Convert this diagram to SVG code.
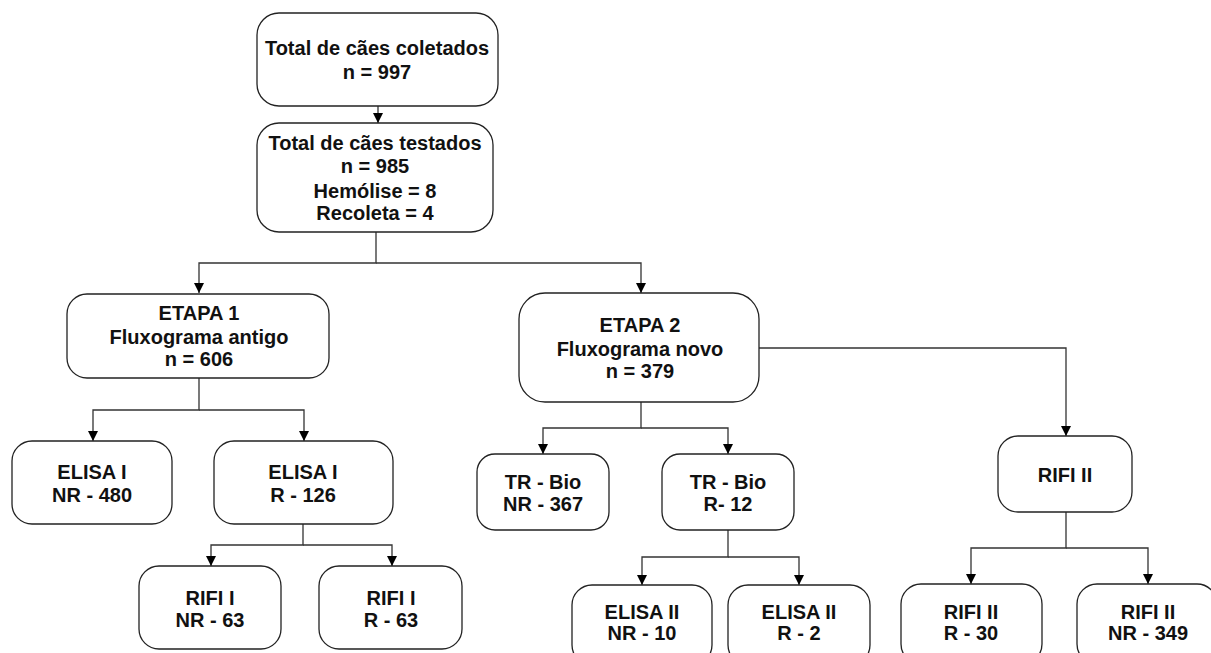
<svg xmlns="http://www.w3.org/2000/svg" width="1211" height="653" viewBox="0 0 1211 653">
<style>
.box{fill:#fff;stroke:#222;stroke-width:1.3}
.t{font-family:"Liberation Sans",Arial,sans-serif;font-weight:bold;font-size:20px;fill:#111;text-anchor:middle}
.c{fill:none;stroke:#333;stroke-width:1.3}
</style>
<defs>
<marker id="ah" markerUnits="userSpaceOnUse" markerWidth="10" markerHeight="10" refX="10" refY="5" orient="auto" viewBox="0 0 10 10">
<path d="M0,0 L10,5 L0,10 z" fill="#000"/>
</marker>
</defs>
<rect width="1211" height="653" fill="#fff"/>
<g id="connectors">
<path class="c" d="M378,106 V123" marker-end="url(#ah)"/>
<path class="c" d="M376,232 V263 H199 V293" marker-end="url(#ah)"/>
<path class="c" d="M376,263 H641 V293" marker-end="url(#ah)"/>
<path class="c" d="M199,378 V410 H93 V441" marker-end="url(#ah)"/>
<path class="c" d="M199,410 H304 V441" marker-end="url(#ah)"/>
<path class="c" d="M303,524 V545 H211 V566" marker-end="url(#ah)"/>
<path class="c" d="M303,545 H392 V566" marker-end="url(#ah)"/>
<path class="c" d="M759,348 H1066 V436" marker-end="url(#ah)"/>
<path class="c" d="M641,402 V428 H543 V454" marker-end="url(#ah)"/>
<path class="c" d="M641,428 H728 V454" marker-end="url(#ah)"/>
<path class="c" d="M728,530 V557 H642 V585" marker-end="url(#ah)"/>
<path class="c" d="M728,557 H799 V585" marker-end="url(#ah)"/>
<path class="c" d="M1066,512 V548 H971 V584" marker-end="url(#ah)"/>
<path class="c" d="M1066,548 H1148 V584" marker-end="url(#ah)"/>
</g>
<g id="n1"><rect class="box" x="257" y="13" width="241" height="93" rx="22"/>
<text class="t" x="377" y="55">Total de cães coletados</text><text class="t" x="377" y="79">n = 997</text></g>
<g id="n2"><rect class="box" x="257" y="123" width="236" height="109" rx="22"/>
<text class="t" x="375" y="150">Total de cães testados</text><text class="t" x="375" y="173">n = 985</text><text class="t" x="375" y="198">Hemólise = 8</text><text class="t" x="375" y="220">Recoleta = 4</text></g>
<g id="n3"><rect class="box" x="67" y="294" width="262" height="84" rx="20"/>
<text class="t" x="199" y="320">ETAPA 1</text><text class="t" x="199" y="344">Fluxograma antigo</text><text class="t" x="199" y="366">n = 606</text></g>
<g id="n4"><rect class="box" x="519" y="293" width="240" height="109" rx="26"/>
<text class="t" x="640" y="332">ETAPA 2</text><text class="t" x="640" y="356">Fluxograma novo</text><text class="t" x="640" y="378">n = 379</text></g>
<g id="n5"><rect class="box" x="12" y="441" width="160" height="83" rx="20"/>
<text class="t" x="92" y="479">ELISA I</text><text class="t" x="92" y="502">NR - 480</text></g>
<g id="n6"><rect class="box" x="214" y="441" width="179" height="83" rx="20"/>
<text class="t" x="303" y="479">ELISA I</text><text class="t" x="303" y="502">R - 126</text></g>
<g id="n7"><rect class="box" x="139" y="566" width="142" height="83" rx="20"/>
<text class="t" x="210" y="605">RIFI I</text><text class="t" x="210" y="627">NR - 63</text></g>
<g id="n8"><rect class="box" x="319" y="566" width="143" height="83" rx="20"/>
<text class="t" x="391" y="605">RIFI I</text><text class="t" x="391" y="627">R - 63</text></g>
<g id="n9"><rect class="box" x="477" y="454" width="132" height="76" rx="18"/>
<text class="t" x="543" y="489">TR - Bio</text><text class="t" x="543" y="511">NR - 367</text></g>
<g id="n10"><rect class="box" x="662" y="454" width="132" height="76" rx="18"/>
<text class="t" x="728" y="489">TR - Bio</text><text class="t" x="728" y="511">R- 12</text></g>
<g id="n11"><rect class="box" x="572" y="585" width="140" height="80" rx="20"/>
<text class="t" x="642" y="619">ELISA II</text><text class="t" x="642" y="640">NR - 10</text></g>
<g id="n12"><rect class="box" x="728" y="585" width="142" height="80" rx="20"/>
<text class="t" x="799" y="619">ELISA II</text><text class="t" x="799" y="640">R - 2</text></g>
<g id="n13"><rect class="box" x="998" y="436" width="134" height="76" rx="20"/>
<text class="t" x="1065" y="482">RIFI II</text></g>
<g id="n14"><rect class="box" x="901" y="584" width="141" height="80" rx="20"/>
<text class="t" x="971" y="619">RIFI II</text><text class="t" x="971" y="640">R - 30</text></g>
<g id="n15"><rect class="box" x="1077" y="584" width="140" height="80" rx="20"/>
<text class="t" x="1148" y="619">RIFI II</text><text class="t" x="1148" y="640">NR - 349</text></g>
</svg>
